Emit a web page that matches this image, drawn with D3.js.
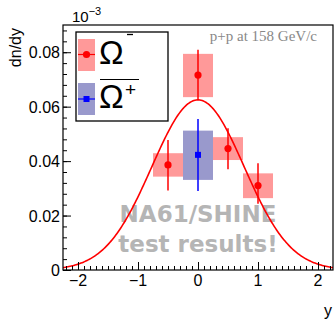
<!DOCTYPE html>
<html><head><meta charset="utf-8">
<script src="https://cdn.jsdelivr.net/npm/d3@7"></script>
<style>body{margin:0;background:#fff}svg{display:block}text{font-family:"Liberation Sans",Arial,sans-serif}</style>
</head><body>
<script>
// ---- data ----
const omMinusY   = [-0.5, 0, 0.5, 1.0];
const omMinusVal = [0.0386, 0.0716, 0.0446, 0.0310];
const omMinusStatLo = [0.0292, 0.0625, 0.0370, 0.0243];
const omMinusStatHi = [0.0478, 0.0809, 0.0521, 0.0392];
const omMinusSysLo  = [0.0343, 0.0635, 0.0404, 0.0264];
const omMinusSysHi  = [0.0429, 0.0794, 0.0488, 0.0355];
const omPlusY   = [0];
const omPlusVal = [0.0423];
const omPlusStatLo = [0.0290];
const omPlusStatHi = [0.0555];
const omPlusSysLo  = [0.0331];
const omPlusSysHi  = [0.0512];
const binHalfWidth = 0.25;
// Gaussian fit parameters (amplitude, mean, sigma)
const fitAmp = 0.0625, fitMean = 0.0, fitSigma = 0.77;
const xTicks = [-2, -1, 0, 1, 2];
const yTicks = [0, 0.02, 0.04, 0.06, 0.08];

const W = 334, H = 322;
const svg = d3.select("body").append("svg").attr("width", W).attr("height", H);
const x = d3.scaleLinear().domain([-2.25, 2.25]).range([63, 333]);
const y = d3.scaleLinear().domain([0, 0.09]).range([270, 25]);

// watermark
svg.append("text").attr("x", 198).attr("y", 222).attr("text-anchor", "middle")
  .style("font-family", "'DejaVu Sans',sans-serif").style("font-weight", "bold")
  .style("font-size", "23px").attr("fill", "#b5b5b5").text("NA61/SHINE");
svg.append("text").attr("x", 198).attr("y", 252).attr("text-anchor", "middle")
  .style("font-family", "'DejaVu Sans',sans-serif").style("font-weight", "bold")
  .style("font-size", "23px").attr("fill", "#b5b5b5").text("test results!");

const red = "#ff0000", redFill = "#ff9999", blue = "#0000ff", blueFill = "#9999cc";

// systematic boxes
svg.selectAll(".sysm").data(omMinusY).join("rect")
  .attr("x", d => x(d - binHalfWidth)).attr("width", d => x(d + binHalfWidth) - x(d - binHalfWidth))
  .attr("y", (d, i) => y(omMinusSysHi[i])).attr("height", (d, i) => y(omMinusSysLo[i]) - y(omMinusSysHi[i]))
  .attr("fill", redFill);
svg.selectAll(".sysp").data(omPlusY).join("rect")
  .attr("x", d => x(d - binHalfWidth)).attr("width", d => x(d + binHalfWidth) - x(d - binHalfWidth))
  .attr("y", (d, i) => y(omPlusSysHi[i])).attr("height", (d, i) => y(omPlusSysLo[i]) - y(omPlusSysHi[i]))
  .attr("fill", blueFill);

// fit curve
svg.append("clipPath").attr("id", "c").append("rect").attr("x", 63).attr("y", 25).attr("width", 270).attr("height", 245);
const xs = d3.range(-2.25, 2.2501, 0.02);
svg.append("path").attr("clip-path", "url(#c)")
  .datum(xs)
  .attr("d", d3.line().x(d => x(d)).y(d => y(fitAmp * Math.exp(-0.5 * Math.pow((d - fitMean) / fitSigma, 2)))))
  .attr("fill", "none").attr("stroke", red).attr("stroke-width", 1.6);

// error bars & markers
svg.selectAll(".erm").data(omMinusY).join("line")
  .attr("x1", d => x(d)).attr("x2", d => x(d))
  .attr("y1", (d, i) => y(omMinusStatLo[i])).attr("y2", (d, i) => y(omMinusStatHi[i]))
  .attr("stroke", red).attr("stroke-width", 1.5);
svg.selectAll(".mm").data(omMinusY).join("circle")
  .attr("cx", d => x(d)).attr("cy", (d, i) => y(omMinusVal[i])).attr("r", 3.6).attr("fill", red);
svg.selectAll(".erp").data(omPlusY).join("line")
  .attr("x1", d => x(d)).attr("x2", d => x(d))
  .attr("y1", (d, i) => y(omPlusStatLo[i])).attr("y2", (d, i) => y(omPlusStatHi[i]))
  .attr("stroke", blue).attr("stroke-width", 1.5);
svg.selectAll(".mp").data(omPlusY).join("rect")
  .attr("x", d => x(d) - 3).attr("y", (d, i) => y(omPlusVal[i]) - 3).attr("width", 6).attr("height", 6).attr("fill", blue);

// axes (ROOT style: ticks inside)
const gx = svg.append("g").attr("transform", "translate(0,270)");
gx.call(d3.axisTop(x).tickValues(d3.range(-22, 23, 1).map(v => v / 10)).tickSize(4).tickFormat(""));
gx.call(g => g.selectAll(".domain").remove());
const gx2 = svg.append("g").attr("transform", "translate(0,270)");
gx2.call(d3.axisTop(x).tickValues(xTicks).tickSize(8).tickFormat(""));
gx2.select(".domain").remove();
svg.selectAll(".xl").data(xTicks).join("text").attr("x", d => x(d)).attr("y", 286)
  .attr("text-anchor", "middle").style("font-size", "16px").text(d => d < 0 ? "\u2212" + Math.abs(d) : d);

const gy = svg.append("g").attr("transform", "translate(63,0)");
gy.call(d3.axisRight(y).tickValues(d3.range(0, 23, 1).map(v => v * 0.004)).tickSize(4).tickFormat(""));
gy.select(".domain").remove();
const gy2 = svg.append("g").attr("transform", "translate(63,0)");
gy2.call(d3.axisRight(y).tickValues(yTicks).tickSize(8).tickFormat(""));
gy2.select(".domain").remove();
svg.selectAll(".yl").data(yTicks).join("text").attr("x", 60).attr("y", d => y(d) + 6)
  .attr("text-anchor", "end").style("font-size", "16px").text(d => d === 0 ? "0" : d3.format(".2f")(d));
svg.selectAll(".tick line").attr("stroke", "#000").attr("stroke-width", 1);

// frame
svg.append("rect").attr("x", 63).attr("y", 25).attr("width", 270).attr("height", 245)
  .attr("fill", "none").attr("stroke", "#000").attr("stroke-width", 1.2);

// exponent
const ex = svg.append("text").attr("x", 72).attr("y", 22).style("font-size", "15px");
ex.append("tspan").text("10");
ex.append("tspan").attr("dy", -7).style("font-size", "11px").text("\u22123");

// axis titles
svg.append("text").attr("transform", "translate(21,28) rotate(-90)").attr("text-anchor", "end")
  .style("font-size", "16px").text("dn/dy");
svg.append("text").attr("x", 332).attr("y", 316).attr("text-anchor", "end").style("font-size", "16px").text("y");

// label
svg.append("text").attr("x", 317).attr("y", 41).attr("text-anchor", "end")
  .style("font-family", "'Liberation Serif',serif").style("font-size", "15px").attr("fill", "#888").text("p+p at 158 GeV/c");

// legend
const lg = svg.append("g");
lg.append("rect").attr("x", 76).attr("y", 32).attr("width", 92).attr("height", 89)
  .attr("fill", "#fff").attr("stroke", "#000").attr("stroke-width", 1.3);
lg.append("rect").attr("x", 78).attr("y", 39).attr("width", 17).attr("height", 32).attr("fill", redFill);
lg.append("line").attr("x1", 78).attr("x2", 95).attr("y1", 54.5).attr("y2", 54.5).attr("stroke", red).attr("stroke-width", 1.2);
lg.append("circle").attr("cx", 86.5).attr("cy", 54.5).attr("r", 3.6).attr("fill", red);
lg.append("rect").attr("x", 78).attr("y", 83).attr("width", 17).attr("height", 32).attr("fill", blueFill);
lg.append("line").attr("x1", 78).attr("x2", 95).attr("y1", 99).attr("y2", 99).attr("stroke", blue).attr("stroke-width", 1.2);
lg.append("rect").attr("x", 83.5).attr("y", 96).attr("width", 6).attr("height", 6).attr("fill", blue);
lg.append("text").attr("x", 99).attr("y", 64).style("font-size", "33px").text("\u03A9");
lg.append("line").attr("x1", 127).attr("x2", 133).attr("y1", 34.5).attr("y2", 34.5).attr("stroke", "#000").attr("stroke-width", 1.3);
lg.append("text").attr("x", 99).attr("y", 108).style("font-size", "33px").text("\u03A9");
lg.append("text").attr("x", 125).attr("y", 96).style("font-size", "19px").text("+");
lg.append("line").attr("x1", 100).attr("x2", 139).attr("y1", 79.5).attr("y2", 79.5).attr("stroke", "#000").attr("stroke-width", 1.2);
</script>
</body></html>
